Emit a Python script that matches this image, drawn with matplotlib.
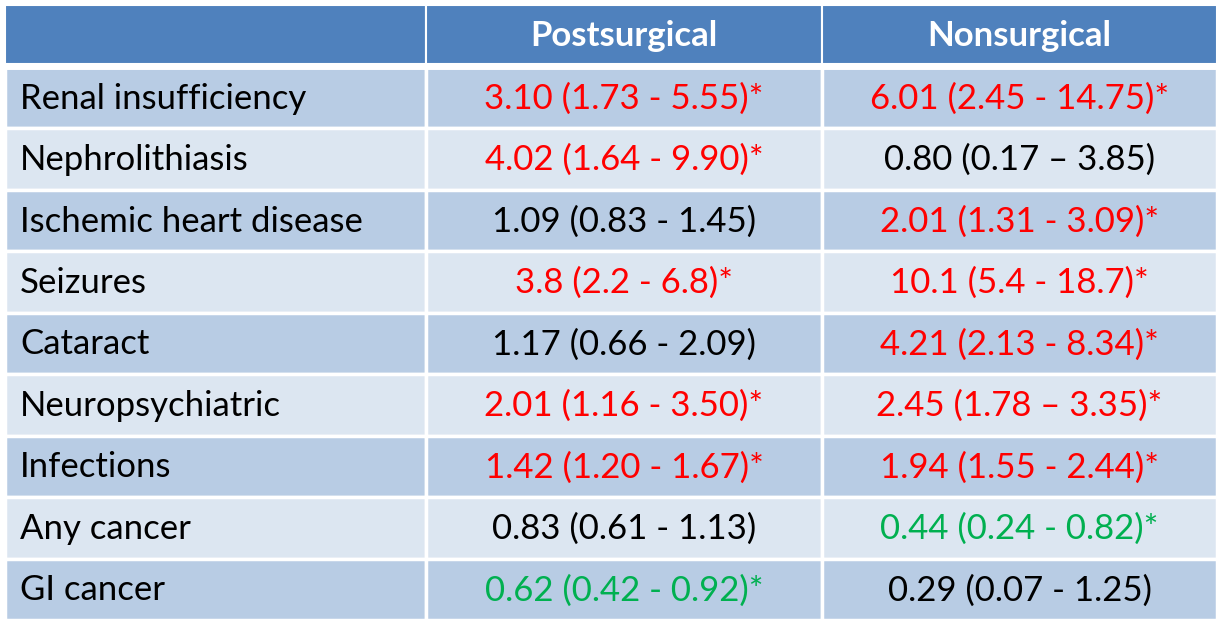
import matplotlib
matplotlib.use("Agg")
import matplotlib.pyplot as plt
from matplotlib.patches import Rectangle

outcomes = ["Renal insufficiency", "Nephrolithiasis", "Ischemic heart disease",
            "Seizures", "Cataract", "Neuropsychiatric", "Infections",
            "Any cancer", "GI cancer"]
headers = ["", "Postsurgical", "Nonsurgical"]
postsurgical = ["3.10 (1.73 - 5.55)*", "4.02 (1.64 - 9.90)*", "1.09 (0.83 - 1.45)",
                "3.8 (2.2 - 6.8)*", "1.17 (0.66 - 2.09)", "2.01 (1.16 - 3.50)*",
                "1.42 (1.20 - 1.67)*", "0.83 (0.61 - 1.13)", "0.62 (0.42 - 0.92)*"]
nonsurgical = ["6.01 (2.45 - 14.75)*", "0.80 (0.17 \u2013 3.85)", "2.01 (1.31 - 3.09)*",
               "10.1 (5.4 - 18.7)*", "4.21 (2.13 - 8.34)*", "2.45 (1.78 \u2013 3.35)*",
               "1.94 (1.55 - 2.44)*", "0.44 (0.24 - 0.82)*", "0.29 (0.07 - 1.25)"]
# r = higher risk, g = lower risk, k = not significant
post_sig = ["r", "r", "k", "r", "k", "r", "r", "k", "g"]
non_sig = ["r", "k", "r", "r", "r", "r", "r", "g", "k"]

colors = {"r": "#FF0000", "g": "#00B050", "k": "#000000"}
header_bg = "#4F81BD"
row_bg = ["#B8CCE4", "#DCE6F1"]

col_edges = [5, 426, 822, 1217]
top, header_bottom = 5, 64
body_top, bottom = 67, 620
font = ["Lato", "DejaVu Sans"]
fs = 25

fig = plt.figure(figsize=(12.19, 6.26), dpi=100)
ax = fig.add_axes([0, 0, 1, 1])
ax.set_xlim(0, 1219)
ax.set_ylim(626, 0)
ax.axis("off")

# header
for j in range(3):
    x0, x1 = col_edges[j], col_edges[j + 1]
    ax.add_patch(Rectangle((x0, top), x1 - x0, header_bottom - top,
                           facecolor=header_bg, edgecolor="white", lw=1.5))
    if headers[j]:
        ax.text((x0 + x1) / 2, (top + header_bottom) / 2 + 1, headers[j],
                ha="center", va="center", color="white", fontsize=fs,
                fontweight="bold", family=font)

# body
row_h = (bottom - body_top) / len(outcomes)
for i, name in enumerate(outcomes):
    y0 = body_top + i * row_h
    yc = y0 + row_h / 2 + 1
    for j in range(3):
        x0, x1 = col_edges[j], col_edges[j + 1]
        ax.add_patch(Rectangle((x0, y0), x1 - x0, row_h,
                               facecolor=row_bg[i % 2], edgecolor="white", lw=2.5))
    ax.text(20, yc, name, ha="left", va="center", fontsize=fs, family=font)
    ax.text((col_edges[1] + col_edges[2]) / 2, yc, postsurgical[i],
            ha="center", va="center", fontsize=fs, family=font,
            color=colors[post_sig[i]])
    ax.text((col_edges[2] + col_edges[3]) / 2, yc, nonsurgical[i],
            ha="center", va="center", fontsize=fs, family=font,
            color=colors[non_sig[i]])

# thicker separator under the header
ax.plot([col_edges[0], col_edges[-1]], [(header_bottom + body_top) / 2] * 2,
        color="white", lw=5)

fig.savefig("out.png", dpi=100, facecolor="white")
